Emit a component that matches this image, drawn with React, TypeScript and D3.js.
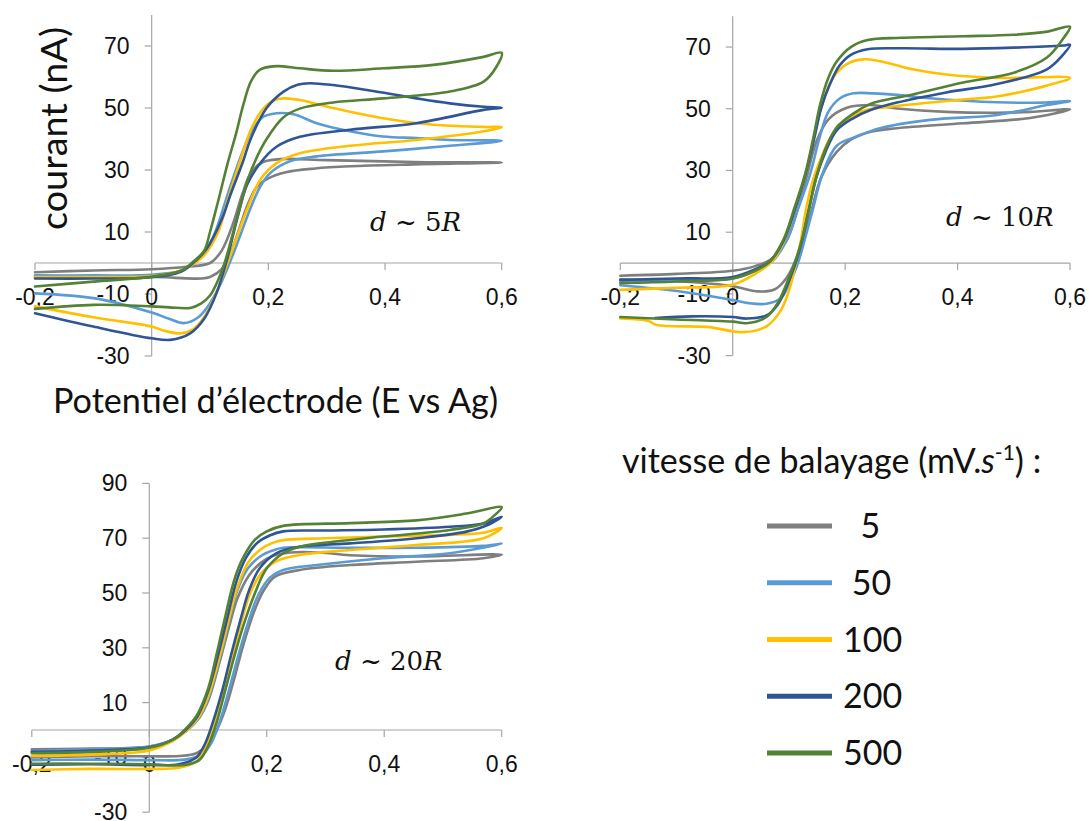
import React from "react";
import * as d3 from "d3";

type P = [number, number];

// Legend / series
const SPEEDS = ["5", "50", "100", "200", "500"];
const SPEED_LABELS = ["  5", " 50", "100", "200", "500"];
const COLORS = ["#7F7F7F", "#5B9BD5", "#FFC000", "#2F5597", "#548235"];

const X_TICKS = [-0.2, 0, 0.2, 0.4, 0.6];
const Y_TICKS_A = [-30, -10, 10, 30, 50, 70];
const Y_TICKS_B = [-30, -10, 10, 30, 50, 70, 90];

// ---------- d ~ 5R (forward branch then reverse branch) ----------
const R5_s5: P[] = [[-0.2,-3],[-0.1,-2.4],[0,-2],[0.06,-1.2],[0.1,0],[0.12,4],[0.14,13],[0.155,22],[0.17,29],[0.19,32.5],[0.22,33.5],[0.3,33.2],[0.45,32.6],[0.6,32.4],
  [0.45,31.8],[0.34,31.2],[0.28,30.5],[0.23,29.3],[0.2,27.3],[0.18,24.5],[0.165,19],[0.15,11],[0.135,3],[0.12,-2],[0.1,-4.5],[0.085,-5],[0.04,-4.8],[0,-4.4],[-0.1,-4.2],[-0.2,-4.4]];
const R5_s50: P[] = [[-0.2,-4],[-0.1,-4],[0,-3.8],[0.05,-2.5],[0.07,-0.5],[0.09,3],[0.109,10],[0.13,22],[0.15,33],[0.17,42],[0.19,47],[0.214,48.3],[0.243,48],[0.283,45.1],[0.34,42.5],[0.397,40.8],[0.454,40.3],[0.511,39.7],[0.6,39.4],
  [0.511,37.8],[0.397,36],[0.283,34.4],[0.237,32.8],[0.203,29],[0.186,24.6],[0.17,18],[0.154,10],[0.14,3],[0.12,-6],[0.1,-13],[0.08,-17.5],[0.055,-19.4],[0.03,-18],[0,-16],[-0.094,-11.5],[-0.2,-9.8]];
const R5_s100: P[] = [[-0.2,-4.5],[-0.1,-4.5],[0,-4.2],[0.05,-2.5],[0.07,-0.5],[0.09,2.5],[0.114,10],[0.13,20],[0.15,32],[0.17,43],[0.19,49.5],[0.21,52.5],[0.226,53.1],[0.254,52.6],[0.311,50],[0.397,46.7],[0.483,44.6],[0.569,43.9],[0.6,43.8],
  [0.569,42.5],[0.454,39.7],[0.34,37.8],[0.254,35.4],[0.214,32.2],[0.186,26.8],[0.165,18],[0.149,10],[0.13,0],[0.11,-10],[0.09,-17.5],[0.07,-21.5],[0.049,-22.7],[0.02,-21.8],[0,-20.5],[-0.1,-17.5],[-0.2,-14]];
const R5_s200: P[] = [[-0.2,-5],[-0.1,-5],[0,-4.6],[0.05,-2.8],[0.066,-0.8],[0.094,4.5],[0.12,14],[0.135,22],[0.157,33],[0.169,39.7],[0.197,50],[0.226,55.3],[0.25,57.5],[0.271,58],[0.311,57.4],[0.369,55.8],[0.454,53.1],[0.511,51.5],[0.569,50.4],[0.6,50.1],
  [0.569,49.4],[0.454,45.1],[0.34,43],[0.254,40.7],[0.214,37.5],[0.186,32.2],[0.163,25],[0.146,13.9],[0.129,1],[0.111,-9.8],[0.09,-18],[0.066,-22.7],[0.032,-24.8],[0,-24.3],[-0.1,-20.5],[-0.2,-16.2]];
const R5_s500: P[] = [[-0.2,-7.6],[-0.1,-6],[0,-4.4],[0.05,-2.5],[0.071,0.4],[0.09,4],[0.1,10],[0.114,20],[0.13,32],[0.145,42],[0.157,51],[0.17,58.5],[0.185,62.3],[0.214,63.5],[0.254,62.8],[0.311,62],[0.397,62.8],[0.483,63.9],[0.569,66.5],[0.6,67.8],
  [0.591,63.3],[0.569,58.5],[0.511,55.3],[0.397,53.1],[0.311,51.8],[0.254,49.8],[0.226,47],[0.197,40],[0.18,34],[0.165,27],[0.15,17],[0.137,8],[0.125,0],[0.115,-5],[0.1,-10.5],[0.085,-13],[0.066,-14.5],[0.03,-14.3],[0,-14],[-0.1,-13.5],[-0.2,-14.8]];

// ---------- d ~ 10R ----------
const R10_s5: P[] = [[-0.2,-4.1],[-0.1,-3.5],[0,-2.5],[0.04,-1],[0.066,1],[0.095,7],[0.117,18.3],[0.133,29],[0.149,39.5],[0.17,46.5],[0.203,50.3],[0.244,51.2],[0.292,50.1],[0.38,49],[0.47,48.7],[0.529,49],[0.6,49.8],
  [0.529,47],[0.41,45.3],[0.292,43.7],[0.244,42.5],[0.21,40],[0.185,36],[0.158,28],[0.14,17],[0.126,7.5],[0.11,0],[0.095,-5],[0.075,-8.5],[0.045,-9.2],[0,-7.5],[-0.09,-6],[-0.2,-5.3]];
const R10_s50: P[] = [[-0.2,-5.7],[-0.1,-5.5],[0,-5],[0.04,-2.5],[0.07,0.5],[0.095,7],[0.115,17],[0.138,29],[0.155,41],[0.17,49],[0.191,53.4],[0.215,55],[0.25,55],[0.292,54.5],[0.351,53.4],[0.47,52.1],[0.55,52],[0.6,52.5],
  [0.559,51.2],[0.47,48],[0.351,46.4],[0.262,43.7],[0.22,41],[0.185,38],[0.16,29],[0.142,17],[0.128,7.5],[0.116,0],[0.1,-7],[0.085,-11.5],[0.06,-13.2],[0.028,-13],[0,-12],[-0.09,-9.3],[-0.2,-7.2]];
const R10_s100: P[] = [[-0.2,-8.7],[-0.1,-8],[0,-7],[0.04,-3.5],[0.07,0.5],[0.09,6.5],[0.11,17],[0.13,29],[0.145,41],[0.16,52],[0.18,60.5],[0.203,64.5],[0.232,66],[0.262,65.4],[0.322,62.7],[0.38,61.1],[0.47,60],[0.6,60],
  [0.559,57.5],[0.47,54],[0.41,53],[0.292,50.9],[0.232,49.3],[0.2,46],[0.175,41],[0.155,33],[0.143,27],[0.13,17],[0.12,6],[0.11,-2],[0.1,-9],[0.085,-15.5],[0.06,-20.5],[0.02,-22.4],[-0.046,-20.7],[-0.135,-20.1],[-0.15,-18.8],[-0.2,-18]];
const R10_s200: P[] = [[-0.2,-5.5],[-0.1,-5],[0,-4.5],[0.04,-2],[0.066,0.5],[0.09,7],[0.11,17],[0.13,29],[0.147,42],[0.157,50],[0.173,58],[0.19,64],[0.21,67.5],[0.24,69.3],[0.3,69.6],[0.41,69.4],[0.5,69.8],[0.588,70.5],[0.6,70.7],
  [0.588,67.6],[0.559,62.8],[0.47,58],[0.38,55.3],[0.292,52],[0.244,49.5],[0.215,47],[0.185,43],[0.165,36],[0.149,28],[0.135,17],[0.123,7],[0.11,-1],[0.095,-8],[0.08,-13.5],[0.06,-17],[0.025,-18],[0,-17.5],[-0.073,-17.3],[-0.138,-17.8]];
const R10_s500: P[] = [[-0.2,-6.5],[-0.1,-6],[0,-5],[0.04,-2.5],[0.066,0.5],[0.09,7.5],[0.11,18],[0.129,29],[0.145,42],[0.155,51],[0.17,60],[0.185,65.3],[0.21,70],[0.24,72.3],[0.3,73],[0.41,73.5],[0.5,74],[0.56,75],[0.6,76.6],
  [0.588,72.8],[0.559,66.6],[0.5,61.7],[0.41,58.5],[0.322,54.7],[0.262,52.5],[0.244,51.5],[0.215,48.5],[0.185,44],[0.165,37],[0.149,28],[0.135,17],[0.123,7.5],[0.11,0],[0.095,-7],[0.08,-13],[0.06,-17.5],[0.025,-19.5],[0,-19],[-0.1,-18.3],[-0.2,-17.5]];

// ---------- d ~ 20R ----------
const R20_s5: P[] = [[-0.2,-7],[-0.1,-6.8],[0,-6],[0.04,-3.5],[0.065,0],[0.085,4.5],[0.1,10.5],[0.12,25],[0.135,37],[0.15,48],[0.17,56.5],[0.19,61],[0.21,63.5],[0.24,64.8],[0.29,64.8],[0.342,63.8],[0.455,63.3],[0.6,64],
  [0.569,62.7],[0.455,61.4],[0.342,60.2],[0.256,58.4],[0.214,56],[0.195,51],[0.178,43],[0.16,31],[0.145,19],[0.13,8],[0.115,0],[0.1,-5],[0.08,-8.5],[0.05,-9.5],[0,-9.6],[-0.1,-9.6],[-0.2,-10]];
const R20_s50: P[] = [[-0.2,-7.8],[-0.1,-7],[0,-6],[0.04,-3.5],[0.065,0],[0.085,4.5],[0.1,11],[0.12,26],[0.135,39],[0.15,51],[0.168,59],[0.19,63.5],[0.21,65.5],[0.228,66.5],[0.342,66.5],[0.455,66.5],[0.569,67.2],[0.6,68],
  [0.512,64.5],[0.398,62.7],[0.285,60.2],[0.228,58.4],[0.205,55.5],[0.185,49],[0.168,39],[0.15,26],[0.135,14],[0.12,3],[0.105,-5],[0.09,-9],[0.06,-10.8],[0,-11],[-0.1,-10.8],[-0.2,-11]];
const R20_s100: P[] = [[-0.2,-9.5],[-0.1,-9],[0,-7.5],[0.04,-4],[0.065,0],[0.085,5],[0.1,12],[0.12,27],[0.135,40],[0.15,52],[0.168,61],[0.19,66],[0.21,68.3],[0.228,69.3],[0.3,70],[0.398,70.6],[0.512,71.2],[0.569,72],[0.6,73.8],
  [0.569,70],[0.455,67.5],[0.342,65.7],[0.256,63.9],[0.215,61.5],[0.19,57],[0.172,50],[0.155,38],[0.14,26],[0.125,13],[0.11,2],[0.095,-7],[0.08,-11.5],[0.05,-13.8],[0,-14.2],[-0.1,-14.2],[-0.2,-14.6]];
const R20_s200: P[] = [[-0.2,-8],[-0.1,-7.5],[0,-6.3],[0.04,-3.5],[0.062,0],[0.082,5],[0.1,14],[0.118,28],[0.133,41],[0.148,54],[0.165,63],[0.185,68.5],[0.205,71],[0.228,72.5],[0.3,72.8],[0.398,73.2],[0.512,74.2],[0.569,75.4],[0.6,77.8],
  [0.58,75.2],[0.54,72.4],[0.455,70],[0.342,68.1],[0.256,66.9],[0.216,64.5],[0.188,59],[0.17,51],[0.155,40],[0.14,28],[0.125,15],[0.11,4],[0.095,-5],[0.08,-10],[0.05,-12.5],[0,-12.8],[-0.1,-12.5],[-0.2,-12.7]];
const R20_s500: P[] = [[-0.2,-8.5],[-0.1,-8],[0,-6.5],[0.04,-3.5],[0.06,0],[0.08,5],[0.1,15],[0.115,28],[0.13,42],[0.145,55],[0.16,63],[0.18,69.5],[0.2,72.5],[0.228,74.5],[0.342,75.5],[0.455,76.5],[0.54,79],[0.6,81.3],
  [0.59,78.8],[0.569,75.4],[0.512,73],[0.398,70.6],[0.313,68.7],[0.256,66.9],[0.228,64.5],[0.2,59],[0.18,50],[0.16,38],[0.145,27],[0.13,15],[0.115,3],[0.1,-6],[0.085,-11],[0.06,-12.8],[0,-12.5],[-0.1,-12.3],[-0.2,-12.3]];

const PANEL_LABELS = ["5", "10", "20"];

interface Panel {
  series: P[][];
  label: string;
  xRange: [number, number];
  yDomain: [number, number];
  yRange: [number, number];
  yTicks: number[];
  labelPos: [number, number];
}

const panels: Panel[] = [
  { series: [R5_s5, R5_s50, R5_s100, R5_s200, R5_s500], label: PANEL_LABELS[0], xRange: [35, 501.7], yDomain: [-30, 80], yRange: [356, 15], yTicks: Y_TICKS_A, labelPos: [370, 231] },
  { series: [R10_s5, R10_s50, R10_s100, R10_s200, R10_s500], label: PANEL_LABELS[1], xRange: [620.3, 1070], yDomain: [-30, 80], yRange: [355.6, 16.2], yTicks: Y_TICKS_A, labelPos: [946, 226] },
  { series: [R20_s5, R20_s50, R20_s100, R20_s200, R20_s500], label: PANEL_LABELS[2], xRange: [31.8, 501.7], yDomain: [-30, 90], yRange: [812.2, 483.4], yTicks: Y_TICKS_B, labelPos: [335, 670] },
];

const fmtX = (v: number) => (v === 0 ? "0" : d3.format(".1f")(v).replace(".", ",").replace("−", "-"));

const AXIS = "#A6A6A6";
const TICK_FONT = "'Liberation Sans', Arial, sans-serif";
const LABEL_FONT = "Lato, 'Open Sans', sans-serif";
const MATH_FONT = "'DejaVu Serif', serif";

function PanelView({ p }: { p: Panel }) {
  const x = d3.scaleLinear().domain([-0.2, 0.6]).range(p.xRange);
  const y = d3.scaleLinear().domain(p.yDomain).range(p.yRange);
  const line = d3
    .line<P>()
    .x((d) => x(d[0]))
    .y((d) => y(d[1]))
    .curve(d3.curveCatmullRom.alpha(0.5));
  const x0 = x(0);
  const y0 = y(0);
  return (
    <g>
      {/* axes */}
      <line x1={x0} x2={x0} y1={y(p.yDomain[0])} y2={y(p.yDomain[1])} stroke={AXIS} strokeWidth={1.2} />
      <line x1={x(-0.2)} x2={x(0.6)} y1={y0} y2={y0} stroke={AXIS} strokeWidth={1.2} />
      {p.yTicks.map((t) => (
        <g key={"y" + t}>
          <line x1={x0 - 7} x2={x0} y1={y(t)} y2={y(t)} stroke={AXIS} strokeWidth={1.2} />
          <text x={x0 - 22} y={y(t) + 8} textAnchor="end" fontFamily={TICK_FONT} fontSize={23} fill="#111">
            {t}
          </text>
        </g>
      ))}
      {X_TICKS.map((t) => (
        <g key={"x" + t}>
          <line x1={x(t)} x2={x(t)} y1={y0} y2={y0 + 7} stroke={AXIS} strokeWidth={1.2} />
          <text x={x(t)} y={y0 + 42} textAnchor="middle" fontFamily={TICK_FONT} fontSize={23} fill="#111">
            {fmtX(t)}
          </text>
        </g>
      ))}
      {/* curves */}
      {p.series.map((s, i) => (
        <path key={i} d={line(s) || ""} fill="none" stroke={COLORS[i]} strokeWidth={2.6} strokeLinejoin="round" strokeLinecap="round" />
      ))}
      {/* annotation */}
      <text x={p.labelPos[0]} y={p.labelPos[1]} fontFamily={MATH_FONT} fontSize={26} fill="#111" style={{ whiteSpace: "pre" }}>
        <tspan fontStyle="italic">d</tspan>
        <tspan>{" ~ " + p.label}</tspan>
        <tspan fontStyle="italic">R</tspan>
      </text>
    </g>
  );
}

export default function App() {
  const legendY = d3.scalePoint<string>().domain(SPEEDS).range([526, 753]);
  return (
    <svg
      width={1089}
      height={821}
      viewBox="0 0 1089 821"
      style={{ position: "absolute", left: 0, top: 0, background: "#fff" }}
    >
      <rect width={1089} height={821} fill="#fff" />
      {panels.map((p, i) => (
        <PanelView key={i} p={p} />
      ))}
      {/* axis titles */}
      <text
        transform="translate(66.5,128.5) rotate(-90)"
        textAnchor="middle"
        fontFamily={LABEL_FONT}
        fontSize={37}
        fill="#111"
        textLength={203}
        lengthAdjust="spacingAndGlyphs"
      >
        courant (nA)
      </text>
      <text x={53} y={413} fontFamily={LABEL_FONT} fontSize={35} fill="#111" textLength={445} lengthAdjust="spacingAndGlyphs">
        Potentiel d’électrode (E vs Ag)
      </text>
      {/* legend */}
      <text x={622} y={473} fontFamily={LABEL_FONT} fontSize={34} fill="#111">
        <tspan>vitesse de balayage (mV.</tspan>
        <tspan fontStyle="italic">s</tspan>
        <tspan fontSize={21} dy={-13}>-1</tspan>
        <tspan dy={13}>) :</tspan>
      </text>
      {SPEEDS.map((s, i) => (
        <g key={s}>
          <line x1={767} x2={832} y1={legendY(s)!} y2={legendY(s)!} stroke={COLORS[i]} strokeWidth={5} />
          <text x={843} y={legendY(s)! + 12} fontFamily={LABEL_FONT} fontSize={34} fill="#111" style={{ whiteSpace: "pre" }}>
            {SPEED_LABELS[i]}
          </text>
        </g>
      ))}
    </svg>
  );
}
